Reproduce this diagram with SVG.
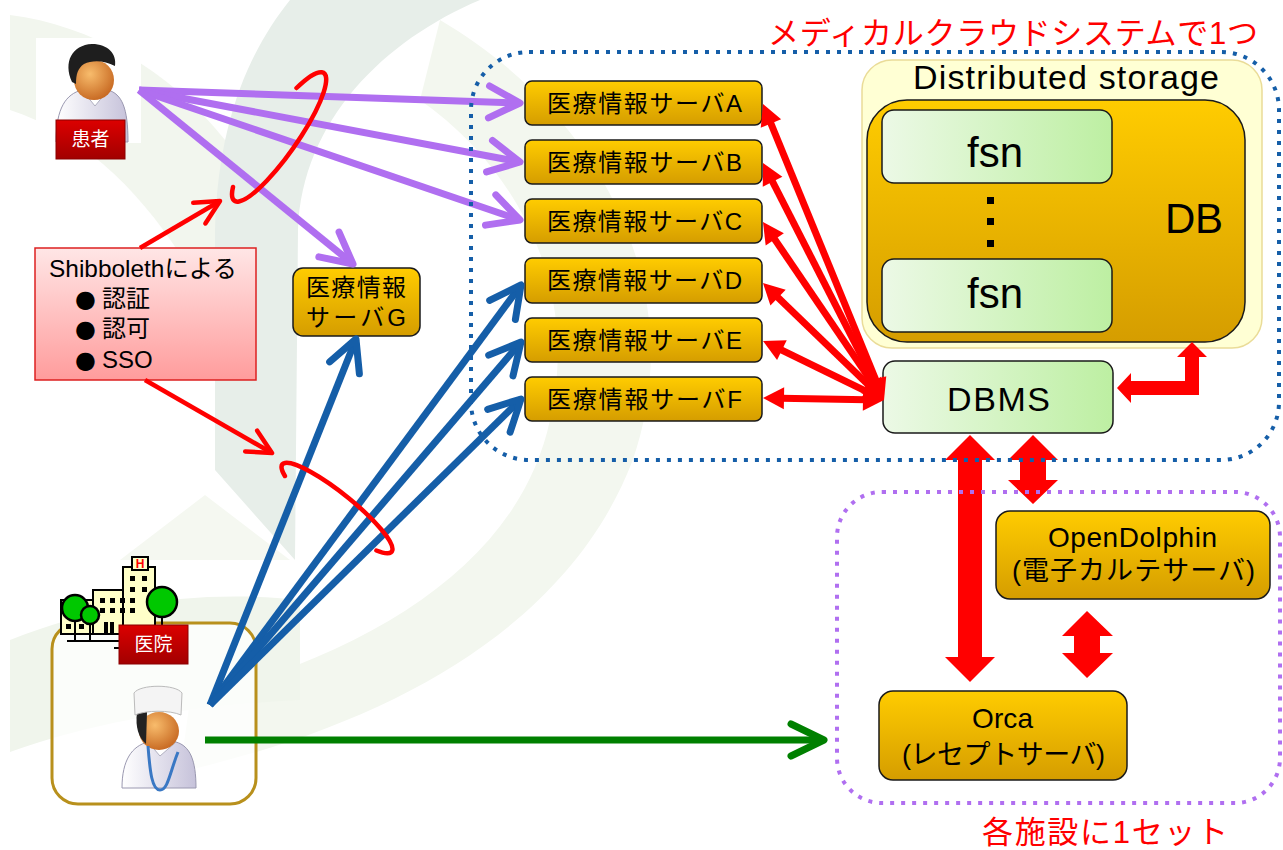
<svg xmlns="http://www.w3.org/2000/svg" width="1283" height="850" viewBox="0 0 1283 850">
<defs>
  <linearGradient id="gold" x1="0" y1="0" x2="0" y2="1">
    <stop offset="0" stop-color="#ffcc00"/><stop offset="1" stop-color="#d59d00"/>
  </linearGradient>
  <linearGradient id="mint" x1="0" y1="0" x2="1" y2="0">
    <stop offset="0" stop-color="#ecf9e6"/><stop offset="1" stop-color="#bdefa2"/>
  </linearGradient>
  <linearGradient id="pink" x1="0" y1="0" x2="0" y2="1">
    <stop offset="0" stop-color="#ffe6e6"/><stop offset="1" stop-color="#ff9c9c"/>
  </linearGradient>
  <linearGradient id="tag" x1="0" y1="0" x2="0" y2="1">
    <stop offset="0" stop-color="#dc0000"/><stop offset="1" stop-color="#a20000"/>
  </linearGradient>
  <radialGradient id="skin" cx="0.4" cy="0.35" r="0.75">
    <stop offset="0" stop-color="#f8bc6c"/><stop offset="1" stop-color="#c2601a"/>
  </radialGradient>
  <linearGradient id="shirt" x1="0" y1="0" x2="1" y2="0">
    <stop offset="0" stop-color="#ffffff"/><stop offset="1" stop-color="#c6c2da"/>
  </linearGradient>

  <!-- open chevron heads -->
  <marker id="hPurple" markerUnits="userSpaceOnUse" markerWidth="44" markerHeight="44" viewBox="-40 -22 44 44" refX="0" refY="0" orient="auto">
    <path d="M-31,-16 L0,0 L-31,16" fill="none" stroke="#b06ff0" stroke-width="7" stroke-linecap="round" stroke-linejoin="round"/>
  </marker>
  <marker id="hBlue" markerUnits="userSpaceOnUse" markerWidth="44" markerHeight="44" viewBox="-40 -22 44 44" refX="0" refY="0" orient="auto">
    <path d="M-31,-16 L0,0 L-31,16" fill="none" stroke="#155ea8" stroke-width="7" stroke-linecap="round" stroke-linejoin="round"/>
  </marker>
  <marker id="hGreen" markerUnits="userSpaceOnUse" markerWidth="44" markerHeight="44" viewBox="-40 -22 44 44" refX="0" refY="0" orient="auto">
    <path d="M-33,-16 L0,0 L-33,16" fill="none" stroke="#008000" stroke-width="7" stroke-linecap="round" stroke-linejoin="round"/>
  </marker>
  <marker id="hRed" markerUnits="userSpaceOnUse" markerWidth="34" markerHeight="34" viewBox="-30 -17 34 34" refX="0" refY="0" orient="auto">
    <path d="M-24,-12 L0,0 L-24,12" fill="none" stroke="#ff0000" stroke-width="4.5" stroke-linecap="round" stroke-linejoin="round"/>
  </marker>
  <!-- solid triangle head, both ends -->
  <marker id="tri" markerUnits="userSpaceOnUse" markerWidth="26" markerHeight="24" viewBox="-4 -12 26 24" refX="0" refY="0" orient="auto-start-reverse">
    <path d="M-3,-11 L18,0 L-3,11 Z" fill="#ff0000"/>
  </marker>
</defs>
<style>
  .t{font-family:"Liberation Sans","Noto Sans CJK JP",sans-serif;}
  .dot{font-family:"DejaVu Sans",sans-serif;font-size:24px;}
  .box{fill:url(#gold);stroke:#1a1a1a;stroke-width:1.5;}
  .fsn{fill:url(#mint);stroke:#1a1a1a;stroke-width:1.5;}
  .srv{font-size:24px;fill:#000;}
  .tagbox{fill:url(#tag);stroke:#8a0000;stroke-width:1;}
  .tagtxt{font-size:19px;fill:#fff;}
  .purple{stroke:#b06ff0;stroke-width:7;fill:none;marker-end:url(#hPurple);}
  .blue{stroke:#155ea8;stroke-width:7;fill:none;marker-end:url(#hBlue);}
  .dbl{stroke:#ff0000;stroke-width:7;fill:none;marker-start:url(#tri);marker-end:url(#tri);}
  .thin{stroke:#ff0000;stroke-width:4.5;fill:none;marker-end:url(#hRed);}
  .ring{stroke:#ff0000;stroke-width:4.5;fill:none;stroke-linecap:round;}
  .block{fill:#ff0000;}
  .note{font-size:31px;fill:#ff0000;}
  .bld{fill:#ffffc8;stroke:#000;stroke-width:2;}
  .win{fill:#000;}
  .tree{fill:#00c800;stroke:#000;stroke-width:2.5;}
</style>

<rect width="1283" height="850" fill="#ffffff"/>

<!-- faint background emblem -->
<g id="emblem">
  <path d="M10,15 C90,25 170,70 225,140 L222,330 C170,220 100,140 10,110 Z" fill="#f2f6ee"/>
  <path d="M290,0 L480,0 C385,40 302,120 298,230 L295,560 L215,470 L215,230 C218,120 250,50 290,0 Z" fill="#e7eee9"/>
  <path d="M440,20 C610,120 690,300 632,462 C570,622 400,722 180,772 L190,700 C380,650 520,560 550,420 C580,290 520,170 420,100 Z" fill="#f3f7ef"/>
  <path d="M10,640 C110,600 210,590 300,600 L300,700 C200,705 100,720 10,752 Z" fill="#f0f5ec"/>
  <path d="M120,560 L205,495 L290,560 Z" fill="#f5f8f1"/>
</g>

<!-- nodes -->
<g id="patient">
  <rect x="36" y="38" width="105" height="105" fill="#ffffff"/>
  <path d="M56,142 C56,108 66,94 82,90 L108,90 C122,94 128,108 128,142 Z" fill="url(#shirt)" stroke="#9a98b0" stroke-width="1"/>
  <path d="M82,90 L95,106 L108,90 Z" fill="#ffffff" stroke="#b0b0c0" stroke-width="1"/>
  <ellipse cx="94" cy="80" rx="20" ry="20" fill="url(#skin)"/>
  <path d="M72,82 C63,62 72,45 92,44 C108,44 117,54 115,66 C104,60 92,60 84,64 C78,68 76,74 76,84 Z" fill="#1e1e1e"/>
  <rect class="tagbox" x="56" y="120" width="69" height="39"/>
  <text class="t tagtxt" x="90.5" y="146" text-anchor="middle">患者</text>
</g>

<g id="shibboleth">
  <rect x="35" y="248" width="221" height="132" fill="url(#pink)" stroke="#dd2020" stroke-width="1.5"/>
  <text class="t" x="49" y="277" font-size="24" textLength="188" lengthAdjust="spacingAndGlyphs">Shibbolethによる</text>
  <text class="t" y="307"><tspan class="dot" x="75">●</tspan><tspan x="102" font-size="24">認証</tspan></text>
  <text class="t" y="337"><tspan class="dot" x="75">●</tspan><tspan x="102" font-size="24">認可</tspan></text>
  <text class="t" y="368"><tspan class="dot" x="75">●</tspan><tspan x="102" font-size="24">SSO</tspan></text>
</g>

<g id="server-g">
  <rect class="box" x="293" y="268" width="127" height="68" rx="10"/>
  <text class="t srv" x="356" y="296" text-anchor="middle" textLength="100">医療情報</text>
  <text class="t srv" x="356" y="326" text-anchor="middle" textLength="100">サーバG</text>
</g>

<g id="hospital">
  <rect x="52" y="623" width="204" height="181" rx="26" fill="#ffffff" fill-opacity="0.75" stroke="#b8901c" stroke-width="3"/>
  <!-- building -->
  <rect class="bld" x="61" y="600" width="34" height="34"/>
  <rect class="bld" x="93" y="590" width="62" height="44"/>
  <rect class="bld" x="123" y="567" width="32" height="60"/>
  <rect x="132" y="557" width="16" height="13" fill="#ffffc8" stroke="#000" stroke-width="2"/>
  <text class="t" x="140" y="568" font-size="12" font-weight="bold" fill="#ff0000" text-anchor="middle">H</text>
  <rect class="win" x="130" y="576" width="5" height="5"/><rect class="win" x="142" y="576" width="5" height="5"/>
  <rect class="win" x="130" y="587" width="5" height="5"/><rect class="win" x="142" y="587" width="5" height="5"/>
  <rect class="win" x="100" y="598" width="5" height="5"/><rect class="win" x="110" y="598" width="5" height="5"/><rect class="win" x="120" y="598" width="5" height="5"/><rect class="win" x="130" y="598" width="5" height="5"/>
  <rect class="win" x="100" y="608" width="5" height="5"/><rect class="win" x="110" y="608" width="5" height="5"/><rect class="win" x="120" y="608" width="5" height="5"/><rect class="win" x="130" y="608" width="5" height="5"/>
  <rect class="win" x="66" y="624" width="5" height="5"/><rect class="win" x="79" y="624" width="5" height="5"/>
  <rect class="win" x="104" y="622" width="4" height="12"/><rect class="win" x="110" y="622" width="4" height="12"/>
  <line x1="75" y1="618" x2="75" y2="641" stroke="#000" stroke-width="2"/>
  <line x1="90" y1="620" x2="90" y2="641" stroke="#000" stroke-width="2"/>
  <line x1="162" y1="612" x2="162" y2="630" stroke="#000" stroke-width="2"/>
  <circle class="tree" cx="75" cy="608" r="13"/>
  <circle class="tree" cx="90" cy="615" r="9"/>
  <circle class="tree" cx="162" cy="602" r="15"/>
  <line x1="67" y1="641" x2="120" y2="641" stroke="#000" stroke-width="2"/>
  <line x1="114" y1="648" x2="121" y2="648" stroke="#000" stroke-width="2"/>
  <rect class="tagbox" x="119" y="625" width="69" height="39"/>
  <text class="t tagtxt" x="153.5" y="651" text-anchor="middle">医院</text>
  <!-- doctor -->
  <path d="M122,788 C122,760 132,746 148,742 L176,742 C190,746 196,760 196,788 Z" fill="url(#shirt)" stroke="#9a98b0" stroke-width="1"/>
  <path d="M148,742 L160,756 L176,742 Z" fill="#ffffff" stroke="#b0b0c0" stroke-width="1"/>
  <ellipse cx="159" cy="731" rx="20" ry="19" fill="url(#skin)"/>
  <path d="M137,712 L147,712 L146,744 C139,738 135,728 137,712 Z" fill="#222222"/>
  <path d="M134,693 C140,684 176,684 182,693 L181,715 C170,710 146,710 135,715 Z" fill="#f4f4f4" stroke="#bbbbbb" stroke-width="1"/>
  <path d="M148,746 C150,772 152,790 160,790 C168,790 170,772 178,752" fill="none" stroke="#3a78c4" stroke-width="3"/>
</g>

<g id="server-a"><rect class="box" x="525" y="81" width="237" height="44" rx="7"/><text class="t srv" x="547" y="112" textLength="195">医療情報サーバA</text></g>
<g id="server-b"><rect class="box" x="525" y="140" width="237" height="44" rx="7"/><text class="t srv" x="547" y="171" textLength="195">医療情報サーバB</text></g>
<g id="server-c"><rect class="box" x="525" y="199" width="237" height="44" rx="7"/><text class="t srv" x="547" y="230" textLength="195">医療情報サーバC</text></g>
<g id="server-d"><rect class="box" x="525" y="258" width="237" height="45" rx="7"/><text class="t srv" x="547" y="289" textLength="195">医療情報サーバD</text></g>
<g id="server-e"><rect class="box" x="525" y="318" width="237" height="44" rx="7"/><text class="t srv" x="547" y="349" textLength="195">医療情報サーバE</text></g>
<g id="server-f"><rect class="box" x="525" y="377" width="237" height="44" rx="7"/><text class="t srv" x="547" y="408" textLength="195">医療情報サーバF</text></g>

<g id="storage">
  <rect x="862" y="60" width="400" height="288" rx="30" fill="#ffffd4" stroke="#eadc98" stroke-width="1.5"/>
  <text class="t" x="913" y="89" font-size="34" textLength="306">Distributed storage</text>
  <rect class="box" x="867" y="100" width="378" height="242" rx="40"/>
  <text class="t" x="1165" y="233" font-size="42" textLength="58">DB</text>
  <rect class="fsn" x="882" y="110" width="230" height="73" rx="12"/>
  <text class="t" x="967" y="167" font-size="42" textLength="56">fsn</text>
  <rect x="987" y="197" width="7" height="7" fill="#000"/>
  <rect x="987" y="218" width="7" height="7" fill="#000"/>
  <rect x="987" y="240" width="7" height="7" fill="#000"/>
  <rect class="fsn" x="882" y="259" width="230" height="73" rx="12"/>
  <text class="t" x="967" y="308" font-size="42" textLength="56">fsn</text>
</g>

<g id="dbms">
  <rect class="fsn" x="883" y="361" width="230" height="72" rx="12"/>
  <text class="t" x="947" y="411" font-size="34" textLength="103">DBMS</text>
</g>

<g id="opendolphin">
  <rect class="box" x="996" y="511" width="274" height="88" rx="14"/>
  <text class="t" x="1048" y="547" font-size="28" textLength="169">OpenDolphin</text>
  <text class="t" x="1012" y="580" font-size="27" textLength="243">(電子カルテサーバ)</text>
</g>

<g id="orca">
  <rect class="box" x="879" y="691" width="248" height="89" rx="14"/>
  <text class="t" x="972" y="728" font-size="28" textLength="61">Orca</text>
  <text class="t" x="902" y="764" font-size="27" textLength="203">(レセプトサーバ)</text>
</g>

<!-- connectors -->
<g id="connectors">
  <!-- patient access -->
  <line class="purple" x1="139" y1="90" x2="520" y2="103"/>
  <line class="purple" x1="139" y1="90" x2="520" y2="162"/>
  <line class="purple" x1="139" y1="90" x2="520" y2="220"/>
  <line class="purple" x1="139" y1="90" x2="353" y2="264"/>
  <!-- clinic access -->
  <line class="blue" x1="210" y1="705" x2="356" y2="339"/>
  <line class="blue" x1="210" y1="705" x2="521" y2="285"/>
  <line class="blue" x1="210" y1="705" x2="521" y2="342"/>
  <line class="blue" x1="210" y1="705" x2="521" y2="399"/>
  <line x1="205" y1="740" x2="824" y2="740" stroke="#008000" stroke-width="7" marker-end="url(#hGreen)"/>
  <!-- Shibboleth scope -->
  <line class="thin" x1="140" y1="248" x2="220" y2="201"/>
  <line class="thin" x1="145" y1="380" x2="272" y2="453"/>
  <path class="ring" d="M296.5,88 A78,18 -55 1 1 233,187"/>
  <path class="ring" d="M284.9,476 A70,15 38.6 1 1 376.4,550.5"/>
  <!-- DBMS to servers -->
  <line class="dbl" x1="877.2" y1="383.3" x2="769.8" y2="120.7"/>
  <line class="dbl" x1="875.8" y1="384" x2="771.2" y2="179"/>
  <line class="dbl" x1="873.9" y1="385.1" x2="773.1" y2="236.9"/>
  <line class="dbl" x1="871.1" y1="387.5" x2="775.9" y2="295.5"/>
  <line class="dbl" x1="867.8" y1="392.1" x2="779.2" y2="348.9"/>
  <line class="dbl" x1="866" y1="399.7" x2="781" y2="398.3"/>
  <!-- DBMS to DB -->
  <polygon class="block" points="1117,388 1131,373 1131,381 1185,381 1185,357 1177,357 1192,342 1207,357 1199,357 1199,395 1131,395 1131,403"/>
  <!-- DBMS to Orca / OpenDolphin -->
  <polygon class="block" points="970,435 995,460 982,460 982,657 995,657 970,682 945,657 958,657 958,460 945,460"/>
  <polygon class="block" points="1033,435 1058,460 1046,460 1046,480 1058,480 1033,504 1008,480 1020,480 1020,460 1008,460"/>
  <polygon class="block" points="1087,611 1113,636 1100,636 1100,653 1113,653 1087,678 1062,653 1074,653 1074,636 1062,636"/>
</g>

<!-- scope outlines -->
<g id="cloud-scope">
  <rect x="471" y="52" width="808" height="408" rx="58" fill="none" stroke="#155ea8" stroke-width="4" stroke-dasharray="4 7"/>
  <text class="t note" x="768" y="44" textLength="490">メディカルクラウドシステムで1つ</text>
</g>
<g id="facility-scope">
  <rect x="837" y="492" width="443" height="311" rx="45" fill="none" stroke="#b06ff0" stroke-width="4" stroke-dasharray="4 7"/>
  <text class="t note" x="982" y="843" font-size="32" textLength="246">各施設に1セット</text>
</g>
</svg>
